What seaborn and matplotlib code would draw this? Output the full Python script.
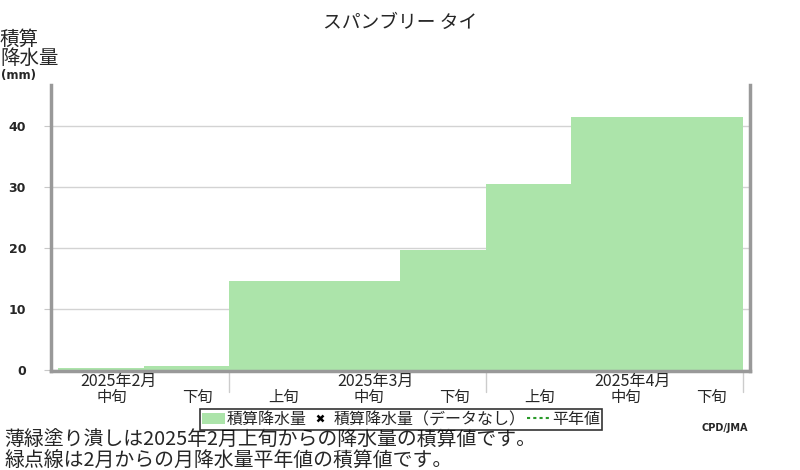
import numpy as np
import pandas as pd
import matplotlib
matplotlib.use("Agg")
import matplotlib.pyplot as plt
import matplotlib.transforms as mtransforms
from matplotlib.patches import Patch
from matplotlib.lines import Line2D
import seaborn as sns

# ---- data ----
title = "スパンブリー タイ"
dekad_index = [1, 2, 3, 4, 5, 6, 7, 8]
dekad_labels = ["中旬", "下旬", "上旬", "中旬", "下旬", "上旬", "中旬", "下旬"]
cum_precip = [0.35, 0.7, 14.6, 14.6, 19.7, 30.5, 41.5, 41.5]
month_labels = ["2025年2月", "2025年3月", "2025年4月"]
month_label_pos = [1, 4, 7]
month_boundaries = [3, 6, 9]
y_ticks = [0, 10, 20, 30, 40]

sns.set_style("white")
plt.rcParams['font.family'] = ['Noto Sans CJK JP', 'DejaVu Sans']

fig = plt.figure(figsize=(8, 4.7), dpi=100)
ax = fig.add_axes([51/800, 1-371/470, (750-51)/800, (371-85)/470])

df = pd.DataFrame({"dekad": [float(v) + 0.5 for v in dekad_index],
                   "value": cum_precip})
sns.histplot(data=df, x="dekad", weights="value", binwidth=1, binrange=(1, 9),
             element="bars", fill=True, color="#ace4aa", alpha=1,
             linewidth=0, edgecolor="none", ax=ax, zorder=2)

ax.set_xlim(0.918, 9.086)
ax.set_ylim(-0.15, 46.8)
ax.set_xticks([])
ax.set_yticks(y_ticks)
ax.set_yticklabels([str(v) for v in y_ticks], fontsize=9, fontweight='bold',
                   family=['DejaVu Sans'])
ax.tick_params(axis='y', length=5, color='#c8c8c8', pad=13, left=True)
ax.set_xlabel("")
ax.set_ylabel("")
ax.grid(axis='y', color='#d3d3d3', lw=1, zorder=0)
ax.set_axisbelow(True)
for s in ['left', 'bottom', 'right']:
    ax.spines[s].set_color('#999999')
    ax.spines[s].set_linewidth(2.5)
    ax.spines[s].set_visible(True)
ax.spines['top'].set_visible(False)

trans = mtransforms.blended_transform_factory(ax.transData, ax.transAxes)
for xb in month_boundaries:
    ax.plot([xb, xb], [0, -0.075], transform=trans, color='#cccccc', lw=1,
            clip_on=False)
for i, lab in zip(dekad_index, dekad_labels):
    ax.text(i + 0.63, -0.092, lab, transform=trans, ha='center', va='center',
            fontsize=11)
for i, lab in zip(month_label_pos, month_labels):
    ax.text(i + 0.71, -0.038, lab, transform=trans, ha='center', va='center',
            fontsize=11.5)

fig.text(0.5, 1-22/470, title, ha='center', va='center', fontsize=13.5)
fig.text(0/800, 1-39/470, "積算", ha='left', va='center', fontsize=14)
fig.text(0/800, 1-58/470, "降水量", ha='left', va='center', fontsize=14)
fig.text(1/800, 1-75/470, "(mm)", ha='left', va='center', fontsize=8.5,
         fontweight='bold', family=['DejaVu Sans'])

handles = [
    Patch(facecolor="#ace4aa", edgecolor='none'),
    Line2D([], [], marker='x', linestyle='none', color='black',
           markersize=4, mew=1.8),
    Line2D([], [], color='#2a9a2a', linestyle=(0, (1.5, 1.5)), lw=1.5),
]
labels = ["積算降水量", "積算降水量（データなし）", "平年値"]
leg = fig.legend(handles, labels, ncol=3, loc='center',
                 bbox_to_anchor=(401/800, 1-419.5/470), fontsize=11.5,
                 frameon=True, fancybox=False, edgecolor='black',
                 handlelength=1.4, handletextpad=0.15, columnspacing=0.1,
                 borderpad=0.15, borderaxespad=0)
leg.get_frame().set_linewidth(1.2)

fig.text(748/800, 1-428/470, "CPD/JMA", ha='right', va='center', fontsize=7,
         fontweight='bold', family=['DejaVu Sans'])
fig.text(4/800, 1-440/470, "薄緑塗り潰しは2025年2月上旬からの降水量の積算値です。",
         ha='left', va='center', fontsize=14.3)
fig.text(4/800, 1-460/470, "緑点線は2月からの月降水量平年値の積算値です。",
         ha='left', va='center', fontsize=14.3)

fig.savefig("out.png", dpi=100)
